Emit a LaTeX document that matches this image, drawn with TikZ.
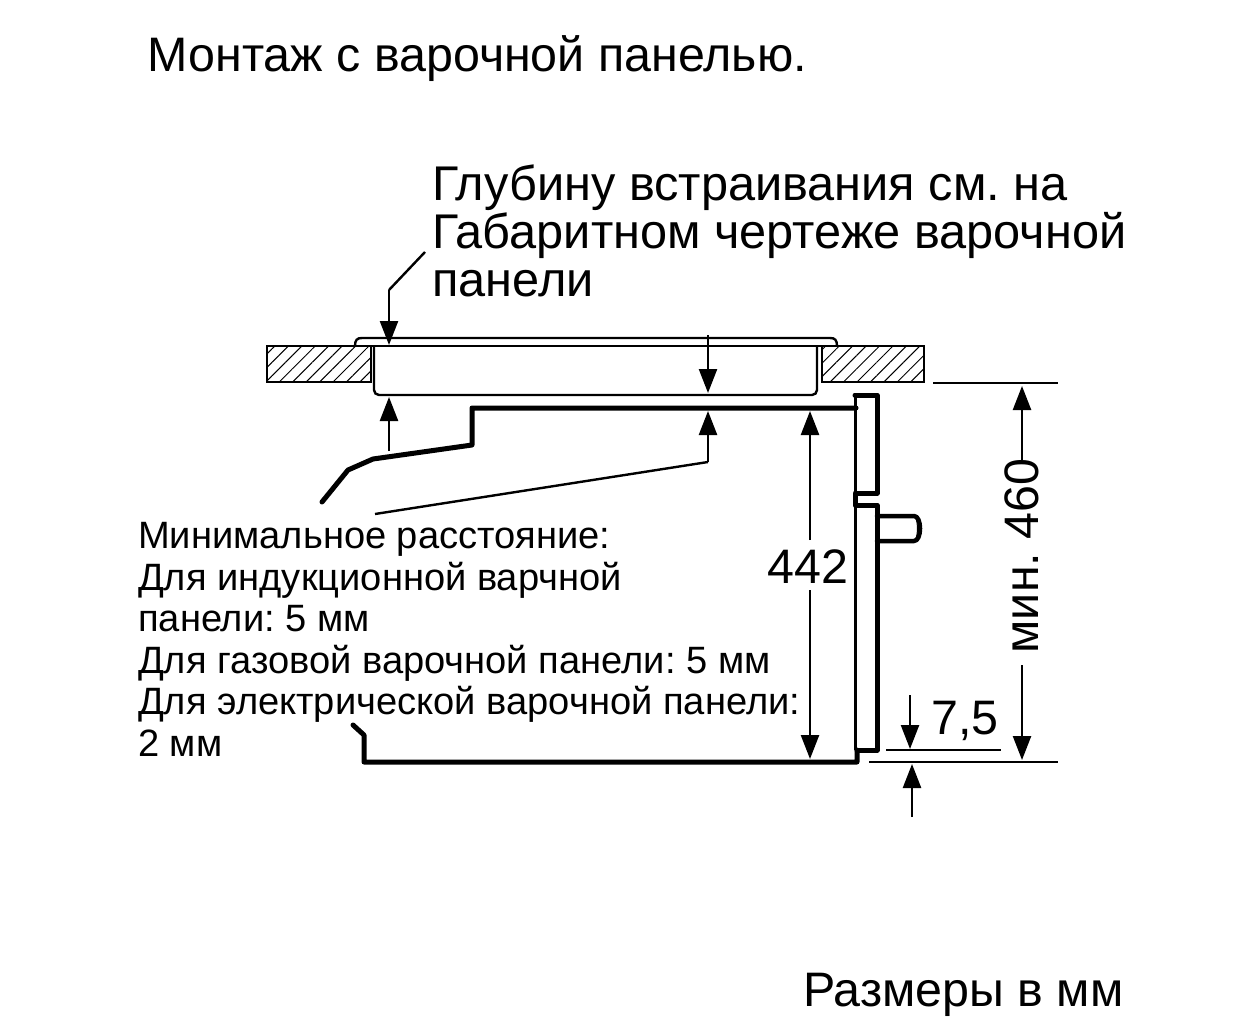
\documentclass[tikz,border=0pt]{standalone}
\usepackage{fontspec}
\setmainfont{Liberation Sans}
\usetikzlibrary{arrows.meta,patterns.meta}
\frenchspacing
\tikzset{
    dimline/.style={line width=2.4pt, -{Triangle[length=24pt,width=18pt]}},
    thinline/.style={line width=2.4pt},
    thickline/.style={line width=5pt, line cap=round, line join=round},
    wallbox/.style={line width=2.8pt, pattern={Lines[angle=45,distance=9.5pt,line width=1pt]}},
    bigtext/.style={anchor=base west, align=left, inner sep=0pt, font=\fontsize{48.4}{48}\selectfont},
    smalltext/.style={anchor=base west, align=left, inner sep=0pt, font=\fontsize{38.1}{41.5}\selectfont},
    dimtext/.style={inner sep=0pt, font=\fontsize{48.4}{48}\selectfont},
}
\begin{document}
\begin{tikzpicture}[x=1pt, y=-1pt]
    \useasboundingbox (0,0) rectangle (1252,1024);
    % texts
    \node[bigtext] (title) at (147.5,72) {Монтаж с варочной панелью.};
    \node[bigtext, anchor=north west, font=\fontsize{48.7}{48}\selectfont] (depth) at (432,164.5) {Глубину встраивания см. на\\Габаритном чертеже варочной\\панели};
    \node[smalltext, anchor=north west] (distance) at (138,522.5) {Минимальное расстояние:\\Для индукционной варчной\\панели: 5 мм\\Для газовой варочной панели: 5 мм\\Для электрической варочной панели:\\2 мм};
    \node[bigtext] (units) at (803,1006) {Размеры в мм};
    \node[dimtext] (dimA) at (808,567) {442};
    \node[dimtext, rotate=90] (dimB) at (1022,556) {мин. 460};
    \node[dimtext] (dimC) at (965,721) {7,5};
    % worktop
    \draw[wallbox] (267,346) rectangle (371,382);
    \draw[wallbox] (822,346) rectangle (924,382);
    % hob
    \draw[thinline] (355,346) .. controls (355,340) and (357,338) .. (362,338) -- (830,338)
        .. controls (835,338) and (837,340) .. (837,346);
    \draw[thinline] (355,346) -- (822,346);
    \draw[thinline, rounded corners=5pt] (374,346) -- (374,395) -- (817,395) -- (817,346);
    % oven
    \draw[thickline] (322,502) -- (348,470) -- (373,459) -- (472,445) -- (472,408) -- (856,408);
    \draw[thickline] (353,725) -- (364,735) -- (364,762) -- (857,762) -- (857,750);
    \draw[line width=3pt] (855.5,395) -- (855.5,493);
    \draw[line width=3pt] (855.5,505) -- (855.5,750);
    \draw[thickline] (855,395) -- (877,395) -- (877,493) -- (855,493) -- (855,505) -- (877,505) -- (877,750) -- (857,750);
    \draw[thickline, line width=4.5pt] (877,516) -- (914,516) .. controls (922,516) and (922,541) .. (914,541) -- (877,541);
    \draw[line width=1pt] (916,518) .. controls (918,524) and (918,533) .. (916,539);
    % extension lines
    \draw[thinline] (933,383) -- (1058,383);
    \draw[thinline] (869,762) -- (1058,762);
    \draw[thinline] (886,750) -- (1001,750);
    % dimension arrows
    \coordinate (depthA) at (425,252);
    \coordinate (depthB) at (389,290);
    \coordinate (depthC) at (389,345);
    \draw[thinline] (depthA) -- (depthB);
    \draw[dimline] (depthB) -- (depthC);
    \coordinate (gapA) at (389,451);
    \coordinate (gapB) at (389,397);
    \draw[dimline] (gapA) -- (gapB);
    \coordinate (minA) at (708,335);
    \coordinate (minB) at (708,393);
    \draw[dimline] (minA) -- (minB);
    \coordinate (minC) at (375,514);
    \coordinate (minD) at (708,462);
    \coordinate (minE) at (708,411);
    \draw[thinline] (minC) -- (minD);
    \draw[dimline] (minD) -- (minE);
    \coordinate (dimAa) at (810,540);
    \coordinate (dimAb) at (810,411);
    \coordinate (dimAc) at (810,590);
    \coordinate (dimAd) at (810,759);
    \draw[dimline] (dimAa) -- (dimAb);
    \draw[dimline] (dimAc) -- (dimAd);
    \coordinate (dimBa) at (1022,460);
    \coordinate (dimBb) at (1022,386);
    \coordinate (dimBc) at (1022,665);
    \coordinate (dimBd) at (1022,760);
    \draw[dimline] (dimBa) -- (dimBb);
    \draw[dimline] (dimBc) -- (dimBd);
    \coordinate (smallA) at (910,695);
    \coordinate (smallB) at (910,749);
    \draw[dimline] (smallA) -- (smallB);
    \coordinate (smallC) at (912,817);
    \coordinate (smallD) at (912,764);
    \draw[dimline] (smallC) -- (smallD);
\end{tikzpicture}
\end{document}
